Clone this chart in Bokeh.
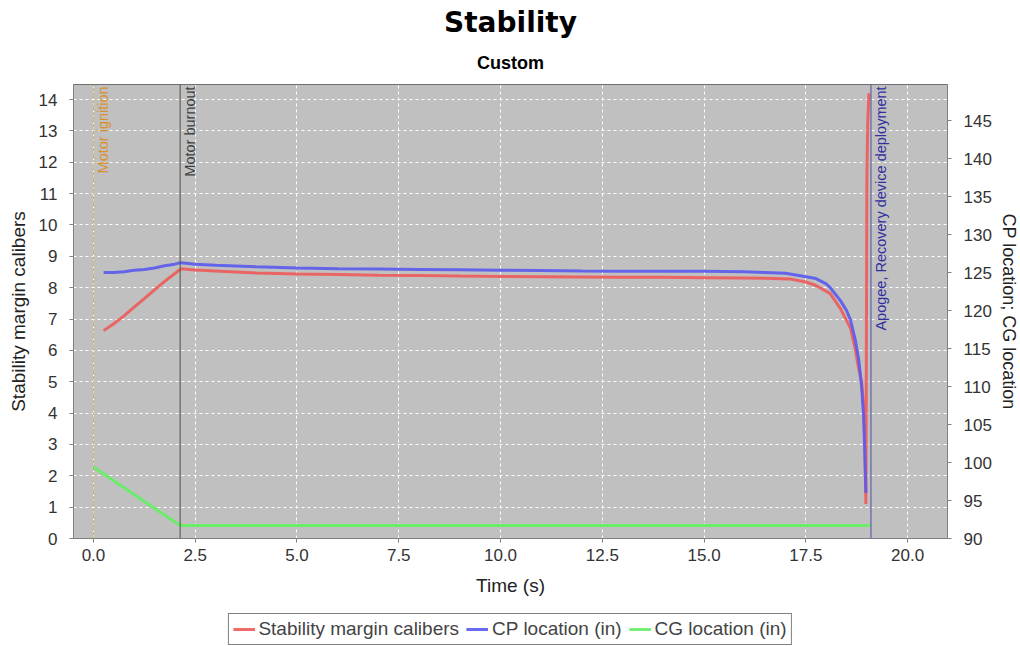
import math
from bokeh.plotting import figure
from bokeh.layouts import column
from bokeh.models import (Range1d, LinearAxis, FixedTicker, NumeralTickFormatter,
                          Legend, LegendItem, Title, Span)
from bokeh.core.properties import value
from bokeh.embed import file_html
from bokeh.resources import INLINE

# ---------------- data ----------------
stab_time = [0.25, 0.5, 0.75, 1.0, 1.25, 1.5, 1.75, 2.0, 2.15, 2.5, 3.0, 3.5, 4.0,
             5.0, 6.0, 7.0, 8.0, 9.0, 10.0, 11.0, 12.0, 13.0, 14.0, 15.0, 16.0,
             16.5, 17.1, 17.5, 17.75, 18.1, 18.35, 18.6, 18.72, 18.8, 18.87,
             18.92, 18.95, 18.975, 19.0, 19.02, 19.05]
stab_cal = [6.63, 6.85, 7.1, 7.38, 7.65, 7.93, 8.2, 8.45, 8.6, 8.56, 8.53, 8.5, 8.47,
            8.44, 8.42, 8.4, 8.39, 8.37, 8.36, 8.35, 8.34, 8.33, 8.33, 8.32, 8.31,
            8.3, 8.28, 8.18, 8.07, 7.81, 7.33, 6.7, 6.0, 5.4, 5.0,
            4.2, 3.0, 1.1, 11.5, 13.2, 14.2]

cp_time = [0.25, 0.5, 0.75, 1.0, 1.25, 1.5, 1.75, 2.0, 2.15, 2.5, 3.0, 3.5, 4.0,
           5.0, 6.0, 7.0, 8.0, 9.0, 10.0, 11.0, 12.0, 13.0, 14.0, 15.0, 16.0,
           16.5, 17.0, 17.4, 17.75, 18.0, 18.1, 18.35, 18.5, 18.6, 18.72, 18.8,
           18.87, 18.92, 18.95, 18.975]
cp_loc = [125.0, 125.0, 125.1, 125.3, 125.4, 125.6, 125.9, 126.1, 126.3, 126.1, 125.95,
          125.85, 125.75, 125.6, 125.5, 125.45, 125.4, 125.35, 125.3, 125.25, 125.2,
          125.18, 125.16, 125.15, 125.1, 125.0, 124.9, 124.55, 124.2, 123.5, 123.0,
          121.3, 120.0, 118.7, 116.0, 113.5, 110.0, 106.0, 101.0, 96.0]

cg_time = [0.0, 2.13, 19.1]
cg_loc = [99.4, 91.7, 91.7]

series_names = ["Stability margin calibers", "CP location (in)", "CG location (in)"]
series_colors = ["#f05a5a", "#5a5af0", "#66ee66"]

event_times = [0.0, 2.13, 19.1]
event_names = ["Motor ignition", "Motor burnout", "Apogee, Recovery device deployment"]
event_colors = ["#e0a040", "#505050", "#5050a0"]
event_dash = ["2 2", "solid", "solid"]
event_text_colors = ["#d89030", "#404040", "#3030a0"]

x_ticks = [0.0, 2.5, 5.0, 7.5, 10.0, 12.5, 15.0, 17.5, 20.0]
left_ticks = list(range(0, 15))
right_ticks = [90, 95, 100, 105, 110, 115, 120, 125, 130, 135, 140, 145]

FONT = "Liberation Sans"

p = figure(frame_width=874, frame_height=454, output_backend="svg", toolbar_location=None,
           x_range=Range1d(-0.49, 20.98), y_range=Range1d(0, 14.48),
           min_border_left=73, min_border_right=73, min_border_top=84,
           min_border_bottom=74)
p.extra_y_ranges = {"right": Range1d(90, 149.74)}

p.background_fill_color = "#c0c0c0"
p.border_fill_color = "white"
p.outline_line_color = "#707070"
p.outline_line_width = 1

# titles
p.add_layout(Title(text="Custom", text_font=FONT, text_font_size="18px",
                   text_font_style="bold", text_color="black", align="center",
                   standoff=24), "above")
p.add_layout(Title(text="Stability", text_font="DejaVu Sans", text_font_size="28px",
                   text_font_style="bold", text_color="black", align="center",
                   standoff=0), "above")

# grids
for g in (p.xgrid, p.ygrid):
    g.grid_line_color = "white"
    g.grid_line_dash = "3 3"
    g.grid_line_width = 1
p.ygrid.ticker = FixedTicker(ticks=left_ticks)
p.xgrid.ticker = FixedTicker(ticks=x_ticks)

def style_axis(ax, label_standoff, tick_standoff, label_size="19px"):
    ax.major_label_text_font = FONT
    ax.major_label_text_font_size = "17px"
    ax.major_label_text_color = "#333333"
    ax.axis_label_text_font = FONT
    ax.axis_label_text_font_size = label_size
    ax.axis_label_text_font_style = "normal"
    ax.axis_label_text_color = "#222222"
    ax.axis_line_color = "#808080"
    ax.major_tick_line_color = "#808080"
    ax.major_tick_in = 0
    ax.major_tick_out = 4
    ax.minor_tick_line_color = None
    ax.major_label_standoff = tick_standoff
    ax.axis_label_standoff = label_standoff

p.xaxis.ticker = FixedTicker(ticks=x_ticks)
p.xaxis.formatter = NumeralTickFormatter(format="0.0")
p.xaxis.axis_label = "Time (s)"
p.yaxis.ticker = FixedTicker(ticks=left_ticks)
p.yaxis.axis_label = "Stability margin calibers"
style_axis(p.xaxis[0], 11, 6)
style_axis(p.yaxis[0], 7, 12)

right_axis = LinearAxis(y_range_name="right", axis_label="CP location; CG location",
                        ticker=FixedTicker(ticks=right_ticks))
style_axis(right_axis, 4, 12, "18px")
p.add_layout(right_axis, "right")

# event lines and labels
for t, name, c, d, tc in zip(event_times, event_names, event_colors, event_dash, event_text_colors):
    p.add_layout(Span(location=t, dimension="height", line_color=c, line_width=1,
                      line_dash=d))
    p.text(x=[t], y=[14.42], text=[name], angle=math.pi / 2, x_offset=2,
           text_align="right", text_baseline="top", text_color=tc,
           text_font=value(FONT), text_font_size="14.5px")

# series
r_stab = p.line(stab_time, stab_cal, line_color=series_colors[0], line_width=3, line_alpha=0.9)
r_cp = p.line(cp_time, cp_loc, line_color=series_colors[1], line_width=3, line_alpha=0.9,
              y_range_name="right")
r_cg = p.line(cg_time, cg_loc, line_color=series_colors[2], line_width=3, line_alpha=0.95,
              y_range_name="right")

# ---------------- legend strip (separate small figure) ----------------
lg = figure(width=1020, height=34, output_backend="svg", toolbar_location=None,
            x_axis_type=None, y_axis_type=None, x_range=Range1d(0, 1), y_range=Range1d(0, 1),
            min_border=0)
lg.outline_line_color = None
lg.background_fill_color = "white"
lg.border_fill_color = "white"
lg.xgrid.visible = False
lg.ygrid.visible = False

items = []
for name, col in zip(series_names, series_colors):
    r = lg.line(x=[float("nan")], y=[float("nan")], line_color=col, line_width=3,
                line_alpha=0.9)
    items.append(LegendItem(label=name, renderers=[r]))

legend = Legend(items=items, orientation="horizontal", location="center",
                label_text_font=FONT, label_text_font_size="19px",
                border_line_color="black", border_line_width=1,
                background_fill_color="white", glyph_width=22, glyph_height=14,
                label_standoff=4, spacing=7, padding=4, margin=0)
legend.label_height = 20
lg.add_layout(legend, "center")

open("out.html", "w").write(file_html(column(p, lg, spacing=0), INLINE))
